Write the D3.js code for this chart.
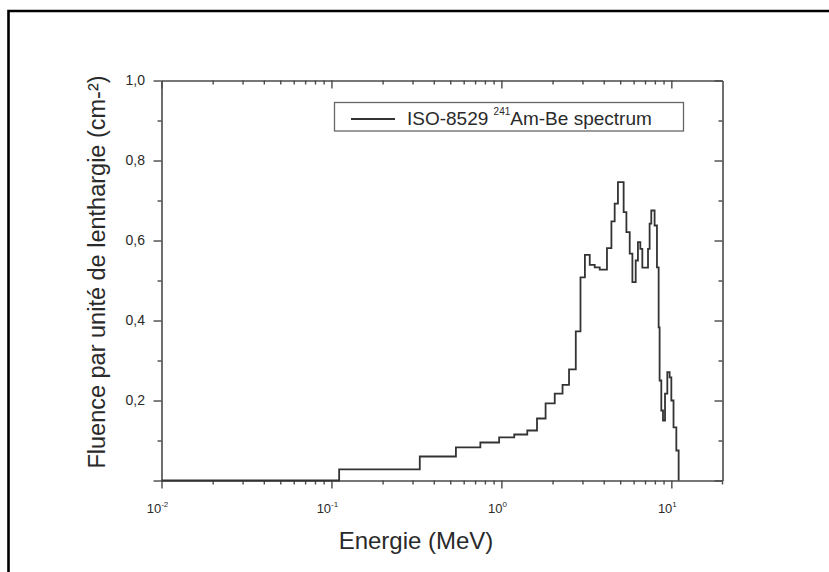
<!DOCTYPE html>
<html>
<head>
<meta charset="utf-8">
<script src="https://cdn.jsdelivr.net/npm/d3@7"></script>
<style>
  html, body { margin: 0; padding: 0; background: #fff; }
  svg { display: block; font-family: "Liberation Sans", Arial, sans-serif; }
</style>
</head>
<body>
<svg id="chart" width="829" height="572"></svg>
<script>
// ---- data ----
const energyEdges = [0.111, 0.331, 0.54, 0.752, 0.97, 1.19, 1.42, 1.62, 1.82, 2.06, 2.29, 2.50, 2.74, 2.92, 3.10, 3.31, 3.54, 3.79, 4.18, 4.44, 4.64, 4.85, 5.24, 5.44, 5.69, 5.90, 6.17, 6.36, 6.57, 6.75, 7.29, 7.45, 7.62, 7.97, 8.23, 8.42, 8.53, 8.73, 8.93, 9.18, 9.47, 9.77, 10.0, 10.3, 10.7, 11.04];
const fluence = [0.028, 0.060, 0.083, 0.095, 0.108, 0.115, 0.125, 0.155, 0.193, 0.217, 0.239, 0.278, 0.373, 0.508, 0.564, 0.539, 0.533, 0.527, 0.581, 0.648, 0.692, 0.746, 0.671, 0.621, 0.567, 0.496, 0.55, 0.596, 0.579, 0.532, 0.579, 0.642, 0.675, 0.6375, 0.533, 0.383, 0.25, 0.175, 0.15, 0.217, 0.271, 0.258, 0.2, 0.133, 0.075];
const xMajorTicks = [0.01, 0.1, 1, 10];
const xTickExponents = ["-2", "-1", "0", "1"];
const yMajorTicks = [0, 0.2, 0.4, 0.6, 0.8, 1.0];
const yTickLabels = ["", "0,2", "0,4", "0,6", "0,8", "1,0"];
const yMinorTicks = [0.1, 0.3, 0.5, 0.7, 0.9];
const seriesName = ["ISO-8529 ", "241", "Am-Be spectrum"];
const xTitle = "Energie (MeV)";
const yTitle = "Fluence par unité de lenthargie (cm-²)";

const svg = d3.select("#chart");
const W = 829, H = 572;
const L = 161.5, R = 722.5, T = 80.5, B = 480.5;
const axisColor = "#4a4a4a";
const textColor = "#2a2a2a";

svg.append("rect").attr("width", W).attr("height", H).attr("fill", "#fff");

// outer frame
svg.append("path")
  .attr("d", `M8.5,${H} L8.5,11 L${W},11`)
  .attr("fill", "none").attr("stroke", "#000").attr("stroke-width", 2.6);

const x = d3.scaleLog().domain([0.01, 20]).range([L, R]);
const y = d3.scaleLinear().domain([0, 1]).range([B, T]);

// minor log ticks
const xMinor = [];
[0.01, 0.1, 1, 10].forEach(d => { for (let k = 2; k <= 9; k++) { const v = d * k; if (v < 20) xMinor.push(v); } });

function styleAxis(g) {
  g.selectAll("path.domain").attr("stroke", axisColor).attr("stroke-width", 1.6);
  g.selectAll(".tick line").attr("stroke", axisColor).attr("stroke-width", 1.4);
  g.selectAll("text").remove();
}

// bottom axis (outward)
svg.append("g").attr("transform", `translate(0,${B})`)
  .call(d3.axisBottom(x).tickValues(xMajorTicks).tickSize(8).tickSizeOuter(0)).call(styleAxis);
svg.append("g").attr("transform", `translate(0,${B})`)
  .call(d3.axisBottom(x).tickValues(xMinor).tickSize(4).tickSizeOuter(0)).call(styleAxis)
  .select("path.domain").remove();
// top axis (inward)
svg.append("g").attr("transform", `translate(0,${T})`)
  .call(d3.axisBottom(x).tickValues(xMajorTicks).tickSize(8).tickSizeOuter(0)).call(styleAxis);
svg.append("g").attr("transform", `translate(0,${T})`)
  .call(d3.axisBottom(x).tickValues(xMinor).tickSize(4).tickSizeOuter(0)).call(styleAxis)
  .select("path.domain").remove();
// left axis (outward)
svg.append("g").attr("transform", `translate(${L},0)`)
  .call(d3.axisLeft(y).tickValues(yMajorTicks).tickSize(8).tickSizeOuter(0)).call(styleAxis);
svg.append("g").attr("transform", `translate(${L},0)`)
  .call(d3.axisLeft(y).tickValues(yMinorTicks).tickSize(4).tickSizeOuter(0)).call(styleAxis)
  .select("path.domain").remove();
// right axis (inward)
svg.append("g").attr("transform", `translate(${R},0)`)
  .call(d3.axisRight(y).tickValues(yMajorTicks).tickSize(-8).tickSizeOuter(0)).call(styleAxis);
svg.append("g").attr("transform", `translate(${R},0)`)
  .call(d3.axisRight(y).tickValues(yMinorTicks).tickSize(-4).tickSizeOuter(0)).call(styleAxis)
  .select("path.domain").remove();
// small extension of right axis below
svg.append("line").attr("x1", R).attr("x2", R).attr("y1", B).attr("y2", B + 4)
  .attr("stroke", axisColor).attr("stroke-width", 1.4);

// y tick labels
svg.append("g").selectAll("text").data(yMajorTicks).join("text")
  .attr("x", 145).attr("y", d => y(d)).attr("dy", "0.35em")
  .attr("text-anchor", "end").attr("font-size", 14).attr("fill", textColor)
  .text((d, i) => yTickLabels[i]);

// x tick labels 10^n
const xl = svg.append("g").selectAll("text").data(xMajorTicks).join("text")
  .attr("x", d => x(d) - 4).attr("y", 513)
  .attr("text-anchor", "middle").attr("font-size", 13).attr("fill", textColor);
xl.append("tspan").text("10");
xl.append("tspan").attr("font-size", 8).attr("dy", -6).text((d, i) => xTickExponents[i]);

// titles
svg.append("text").attr("x", 416).attr("y", 549).attr("text-anchor", "middle")
  .attr("font-size", 24).attr("fill", textColor).text(xTitle);
svg.append("text").attr("transform", "translate(105,272) rotate(-90)")
  .attr("text-anchor", "middle").attr("font-size", 23.5).attr("fill", textColor).text(yTitle);

// step curve
const pts = [{e: 0.01, v: 0}, {e: energyEdges[0], v: 0}];
fluence.forEach((v, i) => pts.push({e: energyEdges[i], v: v}));
pts.push({e: energyEdges[energyEdges.length - 1], v: 0});
const line = d3.line().x(d => x(d.e)).y(d => y(d.v)).curve(d3.curveStepAfter);
svg.append("path").datum(pts).attr("d", line)
  .attr("fill", "none").attr("stroke", "#333").attr("stroke-width", 1.8);

// legend
svg.append("rect").attr("x", 334.5).attr("y", 102.5).attr("width", 349).attr("height", 28.5)
  .attr("fill", "#fff").attr("stroke", "#666").attr("stroke-width", 1.3);
svg.append("line").attr("x1", 351).attr("x2", 395).attr("y1", 119).attr("y2", 119)
  .attr("stroke", "#333").attr("stroke-width", 1.8);
const lt = svg.append("text").attr("x", 407).attr("y", 125).attr("font-size", 19).attr("fill", textColor);
lt.append("tspan").text(seriesName[0]);
lt.append("tspan").attr("font-size", 10).attr("dy", -10).text(seriesName[1]);
lt.append("tspan").attr("dy", 10).text(seriesName[2]);
</script>
</body>
</html>
